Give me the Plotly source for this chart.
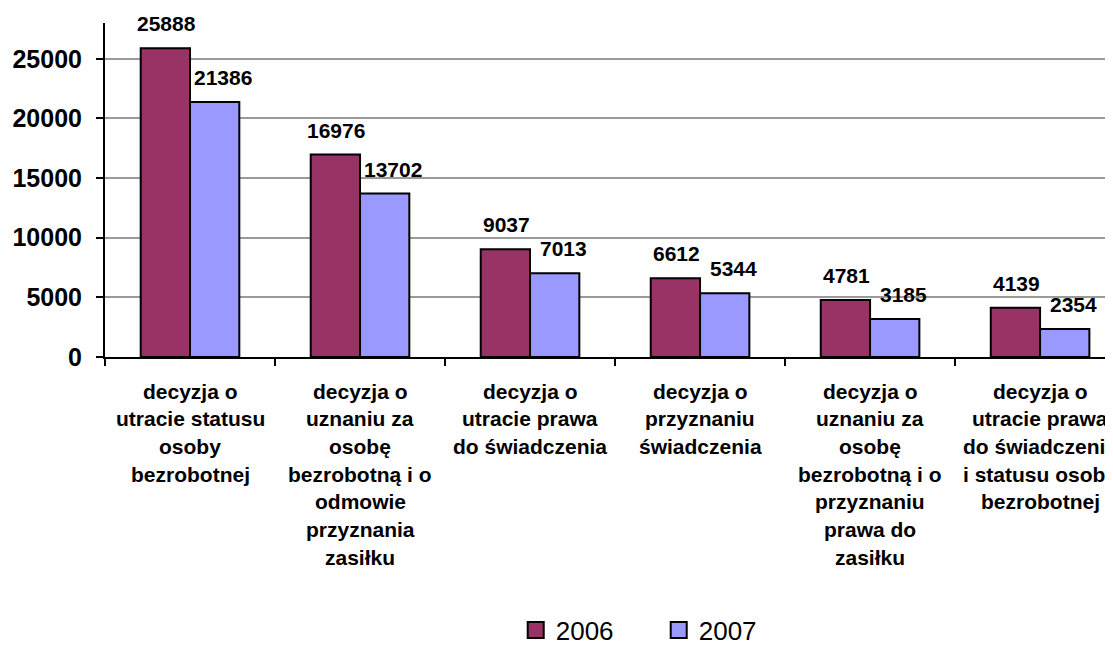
import plotly.graph_objects as go

categories = [
    "decyzja o<br>utracie statusu<br>osoby<br>bezrobotnej",
    "decyzja o<br>uznaniu za<br>osobę<br>bezrobotną i o<br>odmowie<br>przyznania<br>zasiłku",
    "decyzja o<br>utracie prawa<br>do świadczenia",
    "decyzja o<br>przyznaniu<br>świadczenia",
    "decyzja o<br>uznaniu za<br>osobę<br>bezrobotną i o<br>przyznaniu<br>prawa do<br>zasiłku",
    "decyzja o<br>utracie prawa<br>do świadczenia<br>i statusu osoby<br>bezrobotnej",
]
values_2006 = [25888, 16976, 9037, 6612, 4781, 4139]
values_2007 = [21386, 13702, 7013, 5344, 3185, 2354]
y_ticks = [0, 5000, 10000, 15000, 20000, 25000]

COLOR_2006 = "#993366"
COLOR_2007 = "#9999FF"
FONT = "Arial, Liberation Sans, sans-serif"

fig = go.Figure()
fig.add_trace(go.Bar(x=categories, y=values_2006, name="2006", showlegend=False,
                     marker=dict(color=COLOR_2006, line=dict(color="black", width=2))))
fig.add_trace(go.Bar(x=categories, y=values_2007, name="2007", showlegend=False,
                     marker=dict(color=COLOR_2007, line=dict(color="black", width=2))))

# legend-only entries with larger square symbols
for name, color in [("2006", COLOR_2006), ("2007", COLOR_2007)]:
    fig.add_trace(go.Scatter(x=[None], y=[None], mode="markers", name=name,
                             marker=dict(symbol="square", size=17, color=color,
                                         line=dict(color="black", width=2))))

annotations = []
# value labels
for cat, v06, v07 in zip(categories, values_2006, values_2007):
    annotations.append(dict(x=cat, y=v06, text=f"<b>{v06}</b>", showarrow=False,
                            xshift=-24, yanchor="bottom", yshift=11,
                            font=dict(size=21, color="black", family=FONT)))
    annotations.append(dict(x=cat, y=v07, text=f"<b>{v07}</b>", showarrow=False,
                            xshift=33, yanchor="bottom", yshift=11,
                            font=dict(size=21, color="black", family=FONT)))

# category labels, one annotation per line for wider line spacing
for cat in categories:
    for i, line in enumerate(cat.split("<br>")):
        annotations.append(dict(x=cat, y=0, yref="paper", text=f"<b>{line}</b>",
                                showarrow=False, yanchor="middle",
                                yshift=-34 - 27.7 * i,
                                font=dict(size=21, color="black", family=FONT)))

# the page body adds an 8px offset, so margins are shifted to compensate
fig.update_layout(
    width=1113, height=645,
    margin=dict(l=97, r=0, t=15, b=296, autoexpand=False),
    paper_bgcolor="white", plot_bgcolor="white",
    barmode="group", bargap=0.42, bargroupgap=0,
    font=dict(family=FONT, color="black"),
    annotations=annotations,
    legend=dict(orientation="h", x=0.545, xanchor="center", y=-0.818, yanchor="middle",
                font=dict(size=26, family=FONT, color="black"),
                itemwidth=30, entrywidth=98, entrywidthmode="pixels",
                bgcolor="rgba(0,0,0,0)"),
    xaxis=dict(range=[-0.5, 5.476], showline=True, linecolor="black", linewidth=2,
               ticks="outside", tickson="boundaries", ticklen=7, tickwidth=2,
               tickcolor="black", showticklabels=False, showgrid=False, automargin=False),
    yaxis=dict(range=[0, 28000], tickvals=y_ticks, ticktext=[str(t) for t in y_ticks],
               showline=True, linecolor="black",
               linewidth=2, ticks="outside", ticklen=7, tickwidth=2, tickcolor="black",
               showgrid=True, gridcolor="#9a9a9a", gridwidth=2, zeroline=False,
               ticklabelstandoff=9, automargin=False,
               tickfont=dict(size=25, family=FONT, color="black", weight="bold")),
)

fig.write_html("out.html")
